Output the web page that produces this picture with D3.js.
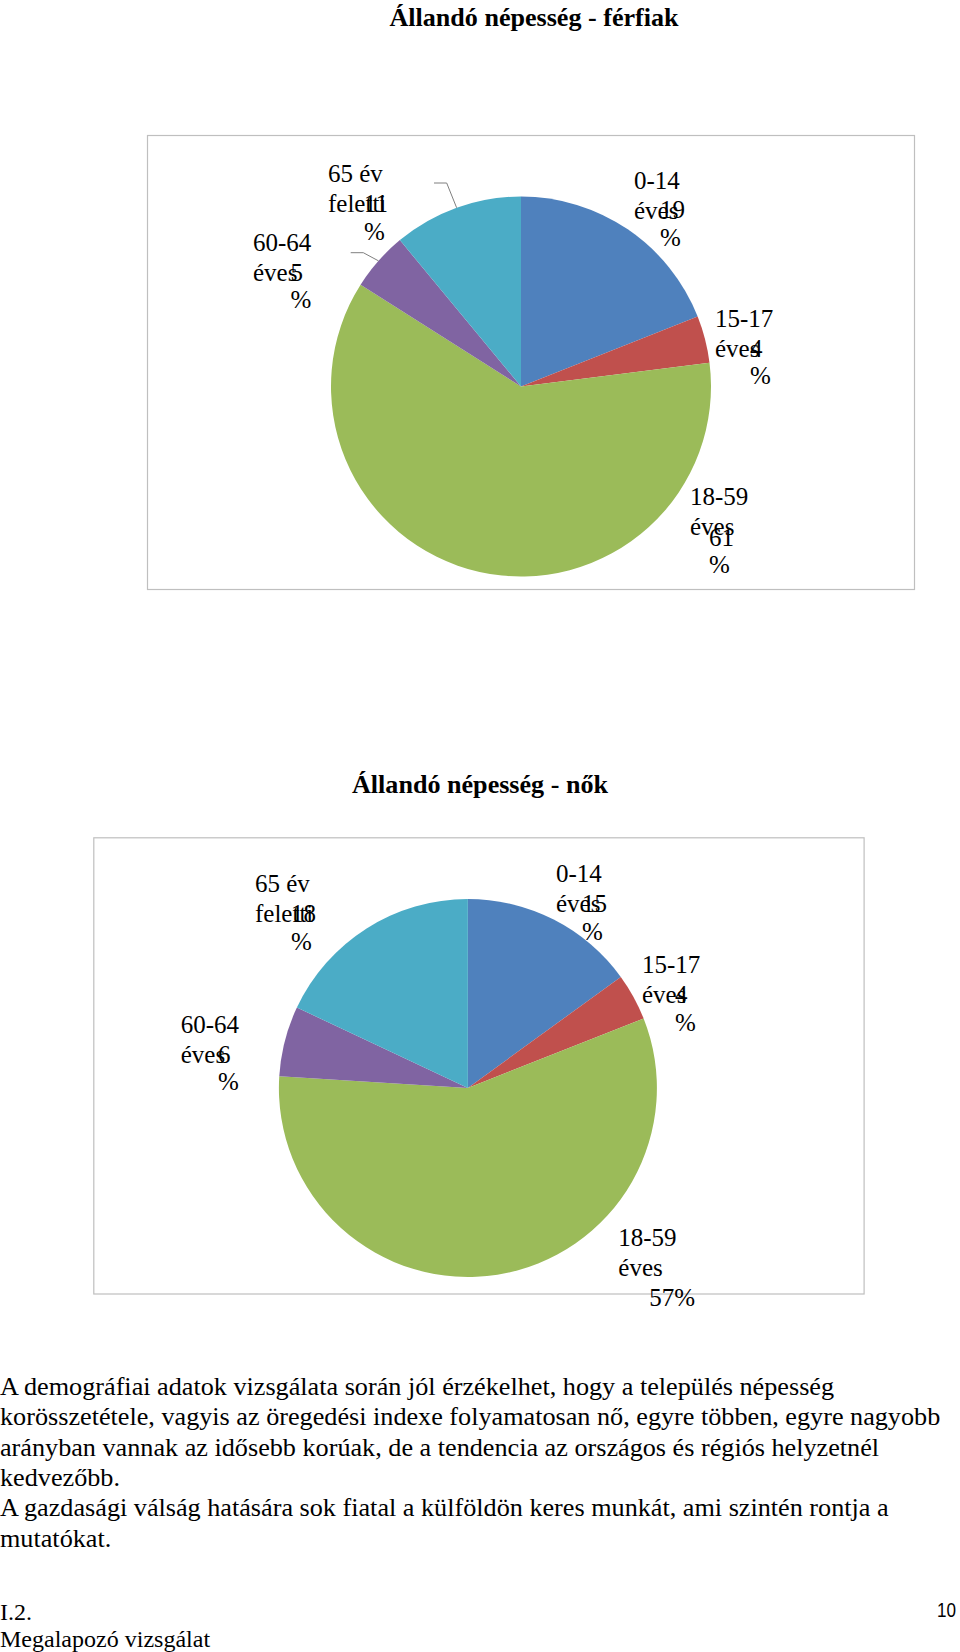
<!DOCTYPE html>
<html>
<head>
<meta charset="utf-8">
<script src="https://cdn.jsdelivr.net/npm/d3@7"></script>
<style>
  html, body { margin: 0; padding: 0; background: #fff; }
  svg { display: block; }
  text { font-family: "Liberation Serif", "Times New Roman", serif; fill: #000; }
</style>
</head>
<body>
<svg id="page" width="960" height="1652"></svg>
<script>
// ---------- DATA ----------
const categories = ["0-14 éves", "15-17 éves", "18-59 éves", "60-64 éves", "65 év feletti"];
const catLine1 = ["0-14", "15-17", "18-59", "60-64", "65 év"];
const catLine2 = ["éves", "éves", "éves", "éves", "feletti"];
const maleValues = [19, 4, 61, 5, 11];
const femaleValues = [15, 4, 57, 6, 18];
const sliceColors = ["#4F81BD", "#C0504D", "#9BBB59", "#8064A2", "#4BACC6"];
const titleMale = "Állandó népesség - férfiak";
const titleFemale = "Állandó népesség - nők";
const paragraph = [
  "A demográfiai adatok vizsgálata során jól érzékelhet, hogy a település népesség",
  "korösszetétele, vagyis az öregedési indexe folyamatosan nő, egyre többen, egyre nagyobb",
  "arányban vannak az idősebb korúak, de a tendencia az országos és régiós helyzetnél",
  "kedvezőbb.",
  "A gazdasági válság hatására sok fiatal a külföldön keres munkát, ami szintén rontja a",
  "mutatókat."
];
const footerLeft = ["I.2.", "Megalapozó vizsgálat"];
const pageNumber = "10";

// ---------- LAYOUT ----------
const svg = d3.select("#page");
svg.append("rect").attr("width", 960).attr("height", 1652).attr("fill", "#fff");

const charts = [
  {
    title: titleMale, values: maleValues,
    titleX: 534, titleY: 26, titleW: 289,
    box: {x: 147.5, y: 135.5, w: 767, h: 454},
    cx: 521, cy: 386.5, r: 190,
    labels: [
      {cx: 634, cy: 189, vx: 660, vy: 218, vpct: 246, dy2: 29.5},
      {cx: 715, cy: 327, vx: 750, vy: 356.5, vpct: 384, dy2: 29.5},
      {cx: 690, cy: 505, vx: 709, vy: 546, vpct: 573, dy2: 29.5},
      {cx: 253, cy: 250.5, vx: 290.5, vy: 280.5, vpct: 308, dy2: 30, leader: [350.7, 252.7, 363.3]},
      {cx: 328, cy: 182, vx: 364, vy: 211.5, vpct: 240, dy2: 29.5, leader: [434, 183, 446.7]}
    ]
  },
  {
    title: titleFemale, values: femaleValues,
    titleX: 480, titleY: 793, titleW: 256,
    box: {x: 93.8, y: 837.8, w: 770.3, h: 456.2},
    cx: 467.9, cy: 1088, r: 189,
    labels: [
      {cx: 556, cy: 881.7, vx: 582, vy: 911.7, vpct: 939.5, dy2: 30},
      {cx: 642, cy: 973.3, vx: 675, vy: 1003.3, vpct: 1031, dy2: 30},
      {cx: 618.3, cy: 1245.7, vx: 649.3, vy: 1305.5, single: true, dy2: 30},
      {cx: 180.7, cy: 1032.5, vx: 218, vy: 1062.5, vpct: 1090, dy2: 30},
      {cx: 255, cy: 891.5, vx: 291, vy: 921.5, vpct: 949.5, dy2: 30}
    ]
  }
];

const pie = d3.pie().sort(null).value(d => d);

charts.forEach(ch => {
  svg.append("text")
    .attr("x", ch.titleX).attr("y", ch.titleY)
    .attr("text-anchor", "middle")
    .attr("font-weight", "bold")
    .attr("font-size", 25)
    .attr("textLength", ch.titleW)
    .attr("lengthAdjust", "spacingAndGlyphs")
    .text(ch.title);

  svg.append("rect")
    .attr("x", ch.box.x).attr("y", ch.box.y)
    .attr("width", ch.box.w).attr("height", ch.box.h)
    .attr("fill", "none").attr("stroke", "#bfbfbf").attr("stroke-width", 1.2);

  const arcs = pie(ch.values);
  const arc = d3.arc().innerRadius(0).outerRadius(ch.r);
  const g = svg.append("g").attr("transform", `translate(${ch.cx},${ch.cy})`);
  g.selectAll("path").data(arcs).join("path")
    .attr("d", arc)
    .attr("fill", (d, i) => sliceColors[i]);

  arcs.forEach((a, i) => {
    const L = ch.labels[i];
    if (L.leader) {
      const mid = (a.startAngle + a.endAngle) / 2;
      const ex = ch.cx + Math.sin(mid) * ch.r;
      const ey = ch.cy - Math.cos(mid) * ch.r;
      svg.append("polyline")
        .attr("points", `${L.leader[0]},${L.leader[1]} ${L.leader[2]},${L.leader[1]} ${ex},${ey}`)
        .attr("fill", "none").attr("stroke", "#7f7f7f").attr("stroke-width", 1);
    }
    const fs = 25;
    svg.append("text").attr("x", L.cx).attr("y", L.cy).attr("font-size", fs).text(catLine1[i]);
    svg.append("text").attr("x", L.cx).attr("y", L.cy + L.dy2).attr("font-size", fs).text(catLine2[i]);
    if (L.single) {
      svg.append("text").attr("x", L.vx).attr("y", L.vy).attr("font-size", fs).text(a.data + "%");
    } else {
      svg.append("text").attr("x", L.vx).attr("y", L.vy).attr("font-size", fs).text(String(a.data));
      svg.append("text").attr("x", L.vx).attr("y", L.vpct).attr("font-size", fs).text("%");
    }
  });
});

// ---------- PARAGRAPH ----------
const probe = svg.append("text").attr("font-size", 100).text(paragraph[1]);
const natural = probe.node().getComputedTextLength();
probe.remove();
const paraFS = 100 * 941 / natural;
const paraY0 = 1395, paraDY = 30.3;
paragraph.forEach((line, i) => {
  svg.append("text")
    .attr("x", 0).attr("y", paraY0 + i * paraDY)
    .attr("font-size", paraFS)
    .text(line);
});

// ---------- FOOTER ----------
const footY = [1620, 1647];
footerLeft.forEach((t, i) => {
  svg.append("text").attr("x", 0).attr("y", footY[i])
    .attr("font-size", paraFS * 0.917)
    .text(t);
});
svg.append("text")
  .attr("x", 937).attr("y", 1617)
  .attr("font-size", 21)
  .style("font-family", "'Liberation Sans', Arial, sans-serif")
  .attr("textLength", 19).attr("lengthAdjust", "spacingAndGlyphs")
  .text(pageNumber);
</script>
</body>
</html>
